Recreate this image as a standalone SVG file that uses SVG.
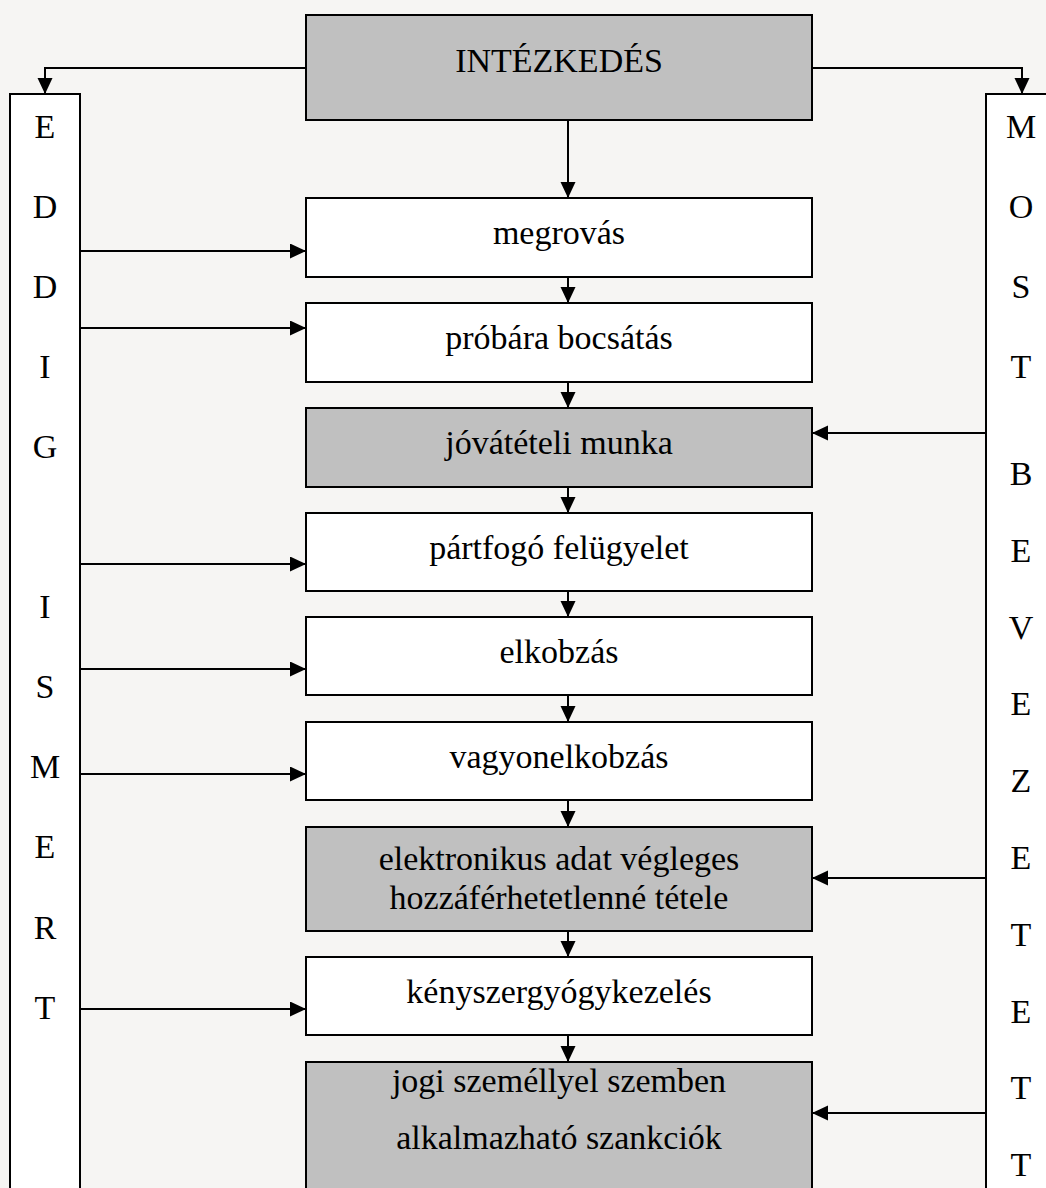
<svg xmlns="http://www.w3.org/2000/svg" width="1046" height="1188" viewBox="0 0 1046 1188">
<defs>
<marker id="ah" markerUnits="userSpaceOnUse" markerWidth="16" markerHeight="16" refX="16" refY="7.5" orient="auto">
<path d="M0,0 L16,7.5 L0,15 Z" fill="#000"/>
</marker>
<style>
.box{fill:#fff;stroke:#000;stroke-width:2}
.gray{fill:#c0c0c0;stroke:#000;stroke-width:2}
.col{fill:#fff;stroke:#000;stroke-width:2}
.t{font-family:"Liberation Serif","Times New Roman",serif;font-size:34px;fill:#000;text-anchor:middle}
.c{fill:none;stroke:#000;stroke-width:2;marker-end:url(#ah)}
</style>
</defs>
<rect width="1046" height="1188" fill="#f6f5f3"/>
<g id="eddig">
<rect class="col" x="10" y="94" width="70" height="1110"/>
<text class="t" x="45" y="138">E</text>
<text class="t" x="45" y="218">D</text>
<text class="t" x="45" y="298">D</text>
<text class="t" x="45" y="378">I</text>
<text class="t" x="45" y="458">G</text>
<text class="t" x="45" y="618">I</text>
<text class="t" x="45" y="698">S</text>
<text class="t" x="45" y="778">M</text>
<text class="t" x="45" y="858">E</text>
<text class="t" x="45" y="939">R</text>
<text class="t" x="45" y="1019">T</text>
</g>
<g id="most">
<rect class="col" x="986" y="94" width="80" height="1110"/>
<text class="t" x="1021" y="138">M</text>
<text class="t" x="1021" y="218">O</text>
<text class="t" x="1021" y="298">S</text>
<text class="t" x="1021" y="378">T</text>
<text class="t" x="1021" y="485">B</text>
<text class="t" x="1021" y="562">E</text>
<text class="t" x="1021" y="639">V</text>
<text class="t" x="1021" y="715">E</text>
<text class="t" x="1021" y="792">Z</text>
<text class="t" x="1021" y="869">E</text>
<text class="t" x="1021" y="946">T</text>
<text class="t" x="1021" y="1023">E</text>
<text class="t" x="1021" y="1099">T</text>
<text class="t" x="1021" y="1176">T</text>
</g>
<g id="intezkedes">
<rect class="gray" x="306" y="15" width="506" height="105"/>
<text class="t" x="559" y="72">INTÉZKEDÉS</text>
</g>
<g id="megrovas">
<rect class="box" x="306" y="198" width="506" height="79"/>
<text class="t" x="559" y="244">megrovás</text>
</g>
<g id="probara">
<rect class="box" x="306" y="303" width="506" height="79"/>
<text class="t" x="559" y="349">próbára bocsátás</text>
</g>
<g id="jovateteli">
<rect class="gray" x="306" y="408" width="506" height="79"/>
<text class="t" x="559" y="454">jóvátételi munka</text>
</g>
<g id="partfogo">
<rect class="box" x="306" y="513" width="506" height="78"/>
<text class="t" x="559" y="559">pártfogó felügyelet</text>
</g>
<g id="elkobzas">
<rect class="box" x="306" y="617" width="506" height="78"/>
<text class="t" x="559" y="663">elkobzás</text>
</g>
<g id="vagyonelkobzas">
<rect class="box" x="306" y="722" width="506" height="78"/>
<text class="t" x="559" y="768">vagyonelkobzás</text>
</g>
<g id="elektronikus">
<rect class="gray" x="306" y="827" width="506" height="104"/>
<text class="t" x="559" y="870">elektronikus adat végleges</text>
<text class="t" x="559" y="909">hozzáférhetetlenné tétele</text>
</g>
<g id="kenyszer">
<rect class="box" x="306" y="957" width="506" height="78"/>
<text class="t" x="559" y="1003">kényszergyógykezelés</text>
</g>
<g id="jogi">
<rect class="gray" x="306" y="1062" width="506" height="150"/>
<text class="t" x="559" y="1092">jogi személlyel szemben</text>
<text class="t" x="559" y="1149">alkalmazható szankciók</text>
</g>
<g id="connectors">
<path class="c" d="M306,68 H45 V94"/>
<path class="c" d="M812,68 H1022 V94"/>
<path class="c" d="M568,120 V198"/>
<path class="c" d="M568,277 V303"/>
<path class="c" d="M568,382 V408"/>
<path class="c" d="M568,487 V513"/>
<path class="c" d="M568,591 V617"/>
<path class="c" d="M568,695 V722"/>
<path class="c" d="M568,800 V827"/>
<path class="c" d="M568,931 V957"/>
<path class="c" d="M568,1035 V1062"/>
<path class="c" d="M80,251 H306"/>
<path class="c" d="M80,328 H306"/>
<path class="c" d="M80,564 H306"/>
<path class="c" d="M80,669 H306"/>
<path class="c" d="M80,774 H306"/>
<path class="c" d="M80,1009 H306"/>
<path class="c" d="M986,433 H812"/>
<path class="c" d="M986,878 H812"/>
<path class="c" d="M986,1113 H812"/>
</g>
</svg>
